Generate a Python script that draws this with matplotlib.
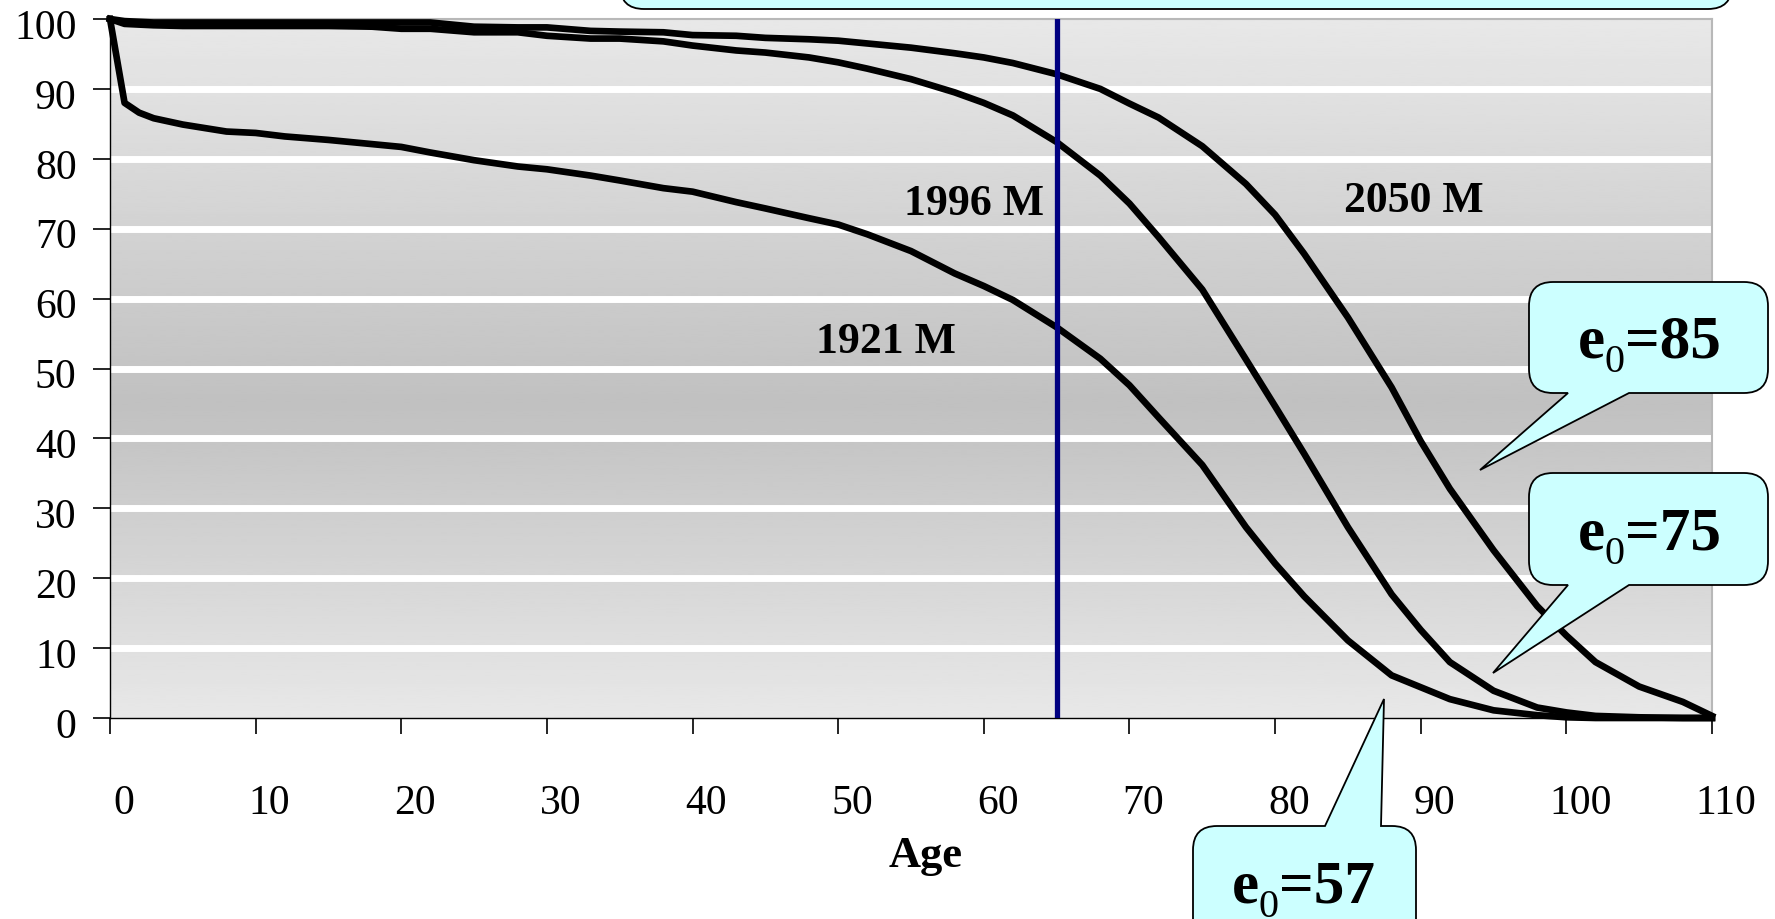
import numpy as np
import matplotlib
matplotlib.use("Agg")
import matplotlib.pyplot as plt
import matplotlib.transforms as mtransforms
from matplotlib.path import Path
from matplotlib.patches import PathPatch

plt.rcParams['font.family'] = ['Liberation Serif', 'DejaVu Serif']

# survivors (per 100 births) by age, males
ages = [0, 1, 2, 3, 5, 8, 10, 12, 15, 18, 20, 22, 25, 28, 30, 33, 35, 38, 40,
        43, 45, 48, 50, 52, 55, 58, 60, 62, 65, 68, 70, 72, 75, 78, 80, 82,
        85, 88, 90, 92, 95, 98, 100, 102, 105, 108, 110]
lx_1921 = [100, 88.0, 86.6, 85.8, 84.9, 83.9, 83.7, 83.2, 82.7, 82.1, 81.7,
           80.9, 79.8, 78.9, 78.5, 77.6, 76.9, 75.8, 75.3, 73.8, 72.9, 71.5,
           70.6, 69.2, 66.8, 63.6, 61.8, 59.8, 55.9, 51.4, 47.6, 43.0, 36.2,
           27.3, 22.1, 17.4, 11.1, 6.1, 4.4, 2.7, 1.1, 0.4, 0.1, 0, 0, 0, 0]
lx_1996 = [100, 99.3, 99.2, 99.1, 99.0, 99.0, 99.0, 99.0, 99.0, 98.9, 98.6,
           98.6, 98.1, 98.1, 97.6, 97.2, 97.2, 96.8, 96.2, 95.5, 95.2, 94.5,
           93.8, 92.9, 91.4, 89.5, 88.0, 86.2, 82.4, 77.6, 73.6, 68.8, 61.3,
           51.3, 44.6, 37.8, 27.3, 17.7, 12.6, 8.0, 3.9, 1.5, 0.8, 0.3, 0.1,
           0, 0]
lx_2050 = [100, 99.7, 99.6, 99.5, 99.5, 99.5, 99.5, 99.5, 99.5, 99.5, 99.5,
           99.5, 98.9, 98.8, 98.8, 98.3, 98.2, 98.1, 97.7, 97.6, 97.3, 97.1,
           96.9, 96.5, 95.9, 95.1, 94.5, 93.7, 92.1, 90.0, 87.9, 85.9, 81.8,
           76.4, 72.0, 66.4, 57.3, 47.3, 39.6, 32.8, 24.0, 16.0, 11.8, 8.0,
           4.5, 2.3, 0.3]
retire_age = 65

series_labels = ['1921 M', '1996 M', '2050 M']
label_pos = [(53.3, 52.4), (59.3, 72.1), (89.5, 72.6)]
e0_values = ['85', '75', '57']

x_ticks = list(range(0, 111, 10))
y_ticks = list(range(0, 101, 10))

W, H = 1775, 920
fig = plt.figure(figsize=(W / 100, H / 100), dpi=100)
ax = fig.add_axes([110 / W, 1 - 719 / H, (1712 - 110) / W, (719 - 20) / H])

# grey gradient plot area like the old excel chart
yy = np.linspace(0, 100, 256)
shade = np.interp(yy, [0, 45, 100], [0.91, 0.755, 0.91])
ax.imshow(shade[:, None], extent=[0, 110, 0, 100], origin='lower',
          aspect='auto', cmap='gray', vmin=0, vmax=1, zorder=0,
          interpolation='bilinear')
for v in y_ticks[1:-1]:
    ax.axhline(v, color='white', lw=5, zorder=1)

for lx in (lx_1921, lx_1996, lx_2050):
    ax.plot(ages, lx, color='black', lw=4.8, zorder=3, clip_on=False)
ax.plot([retire_age, retire_age], [0, 100], color='#000080', lw=3.8, zorder=4)

for lab, (x, y) in zip(series_labels, label_pos):
    ax.text(x, y, lab, ha='center', va='baseline', fontsize=31.5,
            fontweight='bold', zorder=5)

ax.set_xlim(0, 110)
ax.set_ylim(0, 100)
ax.set_xticks(x_ticks)
ax.set_yticks(y_ticks)
ax.tick_params(axis='both', labelsize=30, width=1.2, color='black',
               direction='out')
ax.tick_params(axis='x', length=11.5, pad=36)
ax.tick_params(axis='y', length=12, pad=12)
for lbl in ax.get_xticklabels():
    lbl.set_transform(lbl.get_transform() +
                      mtransforms.ScaledTranslation(0.14, 0, fig.dpi_scale_trans))
for lbl in ax.get_yticklabels():
    lbl.set_transform(lbl.get_transform() +
                      mtransforms.ScaledTranslation(0, -0.04, fig.dpi_scale_trans))

for s in ('top', 'right'):
    ax.spines[s].set_color('#b8b8b8')
    ax.spines[s].set_linewidth(1.5)
for s in ('left', 'bottom'):
    ax.spines[s].set_color('black')
    ax.spines[s].set_linewidth(1.0)

fig.text(926 / W, 1 - 867 / H, 'Age', ha='center', va='baseline',
         fontsize=32, fontweight='bold')


def callout(x0, y0, x1, y1, side=None, base=None, tip=None, r=24):
    """rounded box with a wedge pointer, coords in image pixels (y down)"""
    pts, codes = [], []

    def line(p):
        pts.append(p)
        codes.append(Path.LINETO)

    def corner(c, p):
        pts.extend([c, p])
        codes.extend([Path.CURVE3, Path.CURVE3])

    pts.append((x0 + r, y0))
    codes.append(Path.MOVETO)
    if side == 'top':
        line((base[0], y0)); line(tip); line((base[1], y0))
    line((x1 - r, y0)); corner((x1, y0), (x1, y0 + r))
    line((x1, y1 - r)); corner((x1, y1), (x1 - r, y1))
    if side == 'bottom':
        line((base[1], y1)); line(tip); line((base[0], y1))
    line((x0 + r, y1)); corner((x0, y1), (x0, y1 - r))
    line((x0, y0 + r)); corner((x0, y0), (x0 + r, y0))
    pts.append((x0 + r, y0))
    codes.append(Path.CLOSEPOLY)
    verts = [(x / W, 1 - y / H) for x, y in pts]
    patch = PathPatch(Path(verts, codes), transform=fig.transFigure,
                      facecolor='#ccffff', edgecolor='black', lw=1.3,
                      zorder=6)
    fig.add_artist(patch)


def e0_label(xc, base, value):
    """e0=xx with a big low subscript, placed by pixel widths"""
    big, small = 44, 29
    em_big, em_small = big * 100 / 72, small * 100 / 72
    w_e = 0.444 * em_big
    w_0 = 0.5 * em_small
    w_rest = (0.57 + 0.5 * len(value)) * em_big
    x = xc - (w_e + w_0 + w_rest) / 2
    fig.text(x / W, 1 - base / H, 'e', ha='left', va='baseline',
             fontsize=big, fontweight='bold', zorder=7)
    fig.text((x + w_e) / W, 1 - (base + 14) / H, '0', ha='left',
             va='baseline', fontsize=small, zorder=7)
    fig.text((x + w_e + w_0) / W, 1 - base / H, '=' + value, ha='left',
             va='baseline', fontsize=big, fontweight='bold', zorder=7)


callout(620, -80, 1732, 10)
callout(1529, 283, 1768, 394, 'bottom', (1568, 1629), (1480, 471))
callout(1529, 474, 1768, 586, 'bottom', (1568, 1629), (1493, 674))
callout(1193, 827, 1416, 960, 'top', (1325, 1381), (1384, 700))

for val, (x, y) in zip(e0_values, [(1649, 358), (1649, 550), (1303, 903)]):
    e0_label(x, y, val)

fig.savefig('out.png', dpi=100)
